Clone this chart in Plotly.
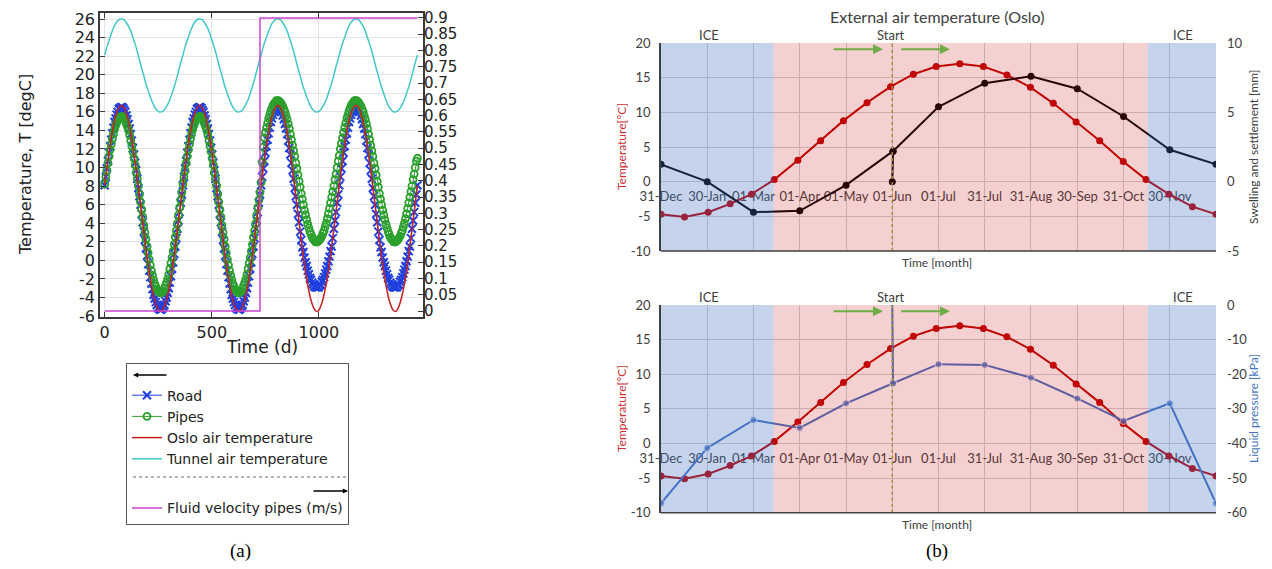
import plotly.graph_objects as go

# =====================  panel (a): simulated temperatures, 4 years  =====================
SAMPLE_STEP_FINE = 365 / 72      # days between road / pipe output samples
SAMPLE_STEP_COARSE = 365 / 36    # days between air-temperature samples

road_year_no_flow = [8.1, 9.0, 9.9, 10.7, 11.6, 12.3, 13.0, 13.7, 14.3, 14.9, 15.3, 15.7,
                     16.0, 16.3, 16.4, 16.5, 16.5, 16.4, 16.2, 16.0, 15.6, 15.2, 14.7, 14.2,
                     13.6, 12.9, 12.1, 11.4, 10.5, 9.7, 8.8, 7.8, 6.9, 6.0, 5.0, 4.1,
                     3.1, 2.2, 1.3, 0.5, -0.4, -1.1, -1.8, -2.5, -3.1, -3.7, -4.1, -4.5,
                     -4.8, -5.1, -5.2, -5.3, -5.3, -5.2, -5.0, -4.8, -4.4, -4.0, -3.5, -3.0,
                     -2.4, -1.7, -0.9, -0.2, 0.7, 1.5, 2.4, 3.4, 4.3, 5.2, 6.2, 7.1]
road_year_flow = [8.1, 9.0, 9.9, 10.7, 11.6, 12.3, 13.0, 13.7, 14.3, 14.9, 15.3, 15.7,
                  16.0, 16.3, 16.4, 16.5, 16.5, 16.4, 16.2, 16.0, 15.6, 15.2, 14.7, 14.2,
                  13.6, 12.9, 12.1, 11.4, 10.5, 9.7, 8.8, 7.8, 6.9, 6.0, 5.0, 4.1,
                  3.1, 2.2, 1.4, 0.9, 0.3, -0.2, -0.6, -1.1, -1.5, -1.9, -2.1, -2.4,
                  -2.6, -2.8, -2.9, -2.9, -2.9, -2.9, -2.7, -2.6, -2.3, -2.1, -1.8, -1.4,
                  -1.0, -0.6, -0.1, 0.4, 1.0, 1.5, 2.4, 3.4, 4.3, 5.2, 6.2, 7.1]
pipes_year_no_flow = [8.2, 9.0, 9.7, 10.5, 11.2, 11.9, 12.5, 13.1, 13.6, 14.1, 14.5, 14.8,
                      15.1, 15.3, 15.4, 15.5, 15.5, 15.4, 15.3, 15.0, 14.7, 14.4, 14.0, 13.5,
                      12.9, 12.3, 11.7, 11.0, 10.3, 9.5, 8.8, 8.0, 7.1, 6.3, 5.5, 4.7,
                      3.8, 3.0, 2.3, 1.5, 0.8, 0.1, -0.5, -1.1, -1.6, -2.1, -2.5, -2.8,
                      -3.1, -3.3, -3.4, -3.5, -3.5, -3.4, -3.3, -3.0, -2.7, -2.4, -2.0, -1.5,
                      -0.9, -0.3, 0.3, 1.0, 1.7, 2.5, 3.2, 4.0, 4.9, 5.7, 6.5, 7.3]
pipes_flow_startup = [8.4, 10.6, 12.2]
pipes_year_flow = [11.3, 12.0, 12.6, 13.2, 13.8, 14.3, 14.8, 15.3, 15.7, 16.1, 16.4, 16.7,
                   16.9, 17.0, 17.2, 17.2, 17.2, 17.1, 17.0, 16.8, 16.6, 16.3, 16.0, 15.6,
                   15.2, 14.7, 14.2, 13.6, 13.0, 12.4, 11.8, 11.2, 10.5, 9.9, 9.2, 8.5,
                   7.9, 7.2, 6.6, 6.0, 5.4, 4.9, 4.4, 3.9, 3.5, 3.1, 2.8, 2.5,
                   2.3, 2.2, 2.0, 2.0, 2.0, 2.1, 2.2, 2.4, 2.6, 2.9, 3.2, 3.6,
                   4.0, 4.5, 5.0, 5.6, 6.2, 6.8, 7.4, 8.0, 8.7, 9.3, 10.0, 10.7]
oslo_year = [8.1, 10.0, 11.7, 13.2, 14.5, 15.5, 16.2, 16.6, 16.7, 16.4, 15.8, 14.9,
             13.7, 12.3, 10.6, 8.8, 6.9, 5.0, 3.1, 1.2, -0.5, -2.0, -3.3, -4.3,
             -5.0, -5.4, -5.5, -5.2, -4.6, -3.7, -2.5, -1.1, 0.6, 2.4, 4.3, 6.2]
tunnel_year = [22.1, 23.0, 23.7, 24.4, 25.0, 25.5, 25.8, 26.0, 26.0, 25.9, 25.6, 25.2,
               24.7, 24.0, 23.3, 22.5, 21.6, 20.7, 19.9, 19.0, 18.3, 17.6, 17.0, 16.5,
               16.2, 16.0, 16.0, 16.1, 16.4, 16.8, 17.3, 18.0, 18.7, 19.5, 20.4, 21.3]

road_temp = road_year_no_flow + road_year_no_flow + road_year_flow + road_year_flow + [8.1]
pipes_temp = (pipes_year_no_flow + pipes_year_no_flow + pipes_flow_startup
              + pipes_year_flow[3:] + pipes_year_flow + [11.0])
oslo_temp = oslo_year + oslo_year + oslo_year + oslo_year + [8.1]
tunnel_temp = tunnel_year + tunnel_year + tunnel_year + tunnel_year + [22.1]

fluid_days = [0, 725, 725, 1460]
fluid_velocity = [0, 0, 0.9, 0.9]

temp_ticks_a = [-6, -4, -2, 0, 2, 4, 6, 8, 10, 12, 14, 16, 18, 20, 22, 24, 26]
temp_labels_a = ["-6", "-4", "-2", "0", "2", "4", "6", "8", "10", "12", "14", "16",
                 "18", "20", "22", "24", "26"]
vel_ticks_a = [0, 0.05, 0.1, 0.15, 0.2, 0.25, 0.3, 0.35, 0.4, 0.45, 0.5,
               0.55, 0.6, 0.65, 0.7, 0.75, 0.8, 0.85, 0.9]
vel_labels_a = ["0", "0.05", "0.1", "0.15", "0.2", "0.25", "0.3", "0.35", "0.4", "0.45", "0.5",
                "0.55", "0.6", "0.65", "0.7", "0.75", "0.8", "0.85", "0.9"]
time_ticks_a = [0, 500, 1000]

# =====================  panel (b): Oslo monitoring, one year  =====================
month_ticks = [0, 30.4, 60.8, 91.25, 121.7, 152.1, 182.5, 212.9, 243.3, 273.75, 304.2, 334.6]
month_labels = ["31-Dec", "30-Jan", "01-Mar", "01-Apr", "01-May", "01-Jun",
                "01-Jul", "31-Jul", "31-Aug", "30-Sep", "31-Oct", "30-Nov"]
temp_ticks_b = [-10, -5, 0, 5, 10, 15, 20]
temp_labels_b = ["-10", "-5", "0", "5", "10", "15", "20"]
swell_ticks_b = [-5, 0, 5, 10]
swell_labels_b = ["-5", "0", "5", "10"]
press_ticks_b = [-60, -50, -40, -30, -20, -10, 0]
press_labels_b = ["-60", "-50", "-40", "-30", "-20", "-10", "0"]

oslo_days = [0, 15.5, 31, 45.5, 59.5, 74.5, 90, 105, 120, 135.5, 151, 166, 181,
             196.5, 212, 227.5, 243, 258, 273, 288.5, 304, 319, 334, 349.5, 365]
oslo_air_b = [-4.7, -5.1, -4.4, -3.2, -1.8, 0.3, 3.1, 5.9, 8.8, 11.4, 13.7, 15.5, 16.6,
              17.0, 16.6, 15.4, 13.6, 11.3, 8.6, 5.9, 2.9, 0.3, -1.8, -3.6, -4.7]

measure_days = [0, 30.4, 60.8, 91.25, 121.7, 152.6, None,
                152.1, 152.6, 182.5, 212.9, 243.3, 273.75, 304.2, 334.6, 365]
swelling_mm = [1.25, 0.0, -2.2, -2.1, -0.25, 2.2, None,
               0.0, 2.2, 5.4, 7.1, 7.6, 6.7, 4.7, 2.3, 1.25]
liquid_pressure_kpa = [-57.3, -41.3, -33.2, -35.5, -28.4, -22.6, None,
                       0.0, -22.6, -17.1, -17.3, -21.0, -27.0, -33.5, -28.4, -57.3]
pressure_marker_size = [7, 7, 7, 7, 7, 7, 0, 0, 7, 7, 7, 7, 7, 7, 7, 7]

ICE_END_DAY = 74
ICE_START_DAY = 320
START_DAY = 152.1

# ----------------------------- styling -----------------------------
ROAD = "#1f3fe0"
PIPES = "#2ca02c"
OSLO = "#c8201e"
TUNNEL = "#40c8c8"
FLUID = "#cc44cc"
XL_RED = "#C00000"
XL_BLUE = "#4472C4"
XL_TXT = "#404040"
FA = "DejaVu Sans"
FB = "Lato"

fig = go.Figure()

fig.add_trace(go.Scatter(x0=0, dx=SAMPLE_STEP_FINE, y=road_temp, name="Road", mode="lines+markers",
                         line=dict(color=ROAD, width=1),
                         marker=dict(symbol="x-thin", size=8, color=ROAD, line=dict(width=2, color=ROAD)),
                         xaxis="x", yaxis="y", legendgroup="left"))
fig.add_trace(go.Scatter(x0=0, dx=SAMPLE_STEP_FINE, y=pipes_temp, name="Pipes", mode="lines+markers",
                         line=dict(color=PIPES, width=1),
                         marker=dict(symbol="circle-open", size=7, color=PIPES, line=dict(width=1.8, color=PIPES)),
                         xaxis="x", yaxis="y", legendgroup="left"))
fig.add_trace(go.Scatter(x0=0, dx=SAMPLE_STEP_COARSE, y=oslo_temp, name="Oslo air temperature", mode="lines",
                         line=dict(color=OSLO, width=1.5, shape="spline"),
                         xaxis="x", yaxis="y", legendgroup="left"))
fig.add_trace(go.Scatter(x0=0, dx=SAMPLE_STEP_COARSE, y=tunnel_temp, name="Tunnel air temperature", mode="lines",
                         line=dict(color=TUNNEL, width=1.5, shape="spline"),
                         xaxis="x", yaxis="y", legendgroup="left"))
fig.add_trace(go.Scatter(x=fluid_days, y=fluid_velocity, name="Fluid velocity pipes (m/s)", mode="lines",
                         line=dict(color=FLUID, width=1.5),
                         xaxis="x", yaxis="y2", legendgroup="right"))

# panel (b) top
fig.add_trace(go.Scatter(x=oslo_days, y=oslo_air_b, mode="lines+markers", showlegend=False,
                         line=dict(color=XL_RED, width=2), marker=dict(size=7, color=XL_RED),
                         xaxis="x2", yaxis="y3"))
fig.add_trace(go.Scatter(x=measure_days, y=swelling_mm, mode="lines+markers", showlegend=False,
                         line=dict(color="black", width=2), marker=dict(size=7, color="black"),
                         xaxis="x2", yaxis="y4"))
# panel (b) bottom
fig.add_trace(go.Scatter(x=oslo_days, y=oslo_air_b, mode="lines+markers", showlegend=False,
                         line=dict(color=XL_RED, width=2), marker=dict(size=7, color=XL_RED),
                         xaxis="x3", yaxis="y5"))
fig.add_trace(go.Scatter(x=measure_days, y=liquid_pressure_kpa, mode="lines+markers", showlegend=False,
                         line=dict(color=XL_BLUE, width=2),
                         marker=dict(size=pressure_marker_size, color=XL_BLUE),
                         xaxis="x3", yaxis="y6"))


def P(px, py):
    return px / 1272, 1 - py / 569


axis_a = dict(showgrid=True, gridcolor="#e4e4e4", gridwidth=1, showline=True, linecolor="#3a3a3a",
              linewidth=1.5, ticks="inside", ticklen=5, tickcolor="#3a3a3a", zeroline=False,
              automargin=False, tickfont=dict(family=FA, size=16, color="#222"))

layout_b_x = dict(range=[0, 365], tickvals=month_ticks, ticktext=month_labels, showline=False,
                  ticks="", showgrid=True, gridcolor="#d0d0d0", gridwidth=1, zeroline=False,
                  automargin=False, layer="below traces", tickfont=dict(family=FB, size=13, color=XL_TXT))
layout_b_yl = dict(range=[-10, 20], tickvals=temp_ticks_b, ticktext=temp_labels_b, showgrid=True,
                   gridcolor="#d0d0d0", gridwidth=1, showline=True, linecolor="#404040", linewidth=1.5,
                   zeroline=False, ticks="", ticklabelstandoff=6, automargin=False,
                   tickfont=dict(family=FB, size=13, color=XL_TXT))

fig.update_layout(
    width=1272, height=569, autosize=False,
    margin=dict(l=0, r=0, t=0, b=0, pad=0, autoexpand=False),
    paper_bgcolor="white", plot_bgcolor="white",
    xaxis=dict(domain=[P(100, 0)[0], P(423, 0)[0]], range=[-22, 1486], tickvals=time_ticks_a,
               anchor="y", mirror="ticks", **axis_a),
    yaxis=dict(domain=[P(0, 317)[1], P(0, 13)[1]], range=[-6.1, 26.65], tickvals=temp_ticks_a,
               ticktext=temp_labels_a, anchor="x", mirror=True, **axis_a),
    yaxis2=dict(overlaying="y", side="right", anchor="x", range=[-0.0184, 0.915], tickvals=vel_ticks_a,
                ticktext=vel_labels_a, showgrid=False, zeroline=False, ticks="inside", ticklen=5,
                automargin=False, tickcolor="#3a3a3a", tickfont=dict(family=FA, size=15, color="#222")),
    xaxis2=dict(domain=[P(661, 0)[0], P(1216, 0)[0]], anchor="free", position=P(0, 187)[1], **layout_b_x),
    yaxis3=dict(domain=[P(0, 251)[1], P(0, 43)[1]], anchor="x2", **layout_b_yl),
    yaxis4=dict(overlaying="y3", side="right", anchor="x2", range=[-5, 10], tickvals=swell_ticks_b,
                ticktext=swell_labels_b, showgrid=False, zeroline=False, showline=False, ticks="",
                ticklabelstandoff=10, automargin=False, tickfont=dict(family=FB, size=13, color=XL_TXT)),
    xaxis3=dict(domain=[P(661, 0)[0], P(1216, 0)[0]], anchor="free", position=P(0, 448.5)[1], **layout_b_x),
    yaxis5=dict(domain=[P(0, 512.7)[1], P(0, 305)[1]], anchor="x3", **layout_b_yl),
    yaxis6=dict(overlaying="y5", side="right", anchor="x3", range=[-60, 0],
                tickvals=press_ticks_b, ticktext=press_labels_b, showgrid=False, zeroline=False,
                showline=False, ticks="", ticklabelstandoff=10, automargin=False,
                tickfont=dict(family=FB, size=13, color=XL_TXT)),
    legend=dict(x=P(126, 0)[0], y=P(0, 363)[1], xanchor="left", yanchor="top",
                bgcolor="rgba(0,0,0,0)", bordercolor="#555", borderwidth=1,
                font=dict(family=FA, size=14, color="#222"),
                title=dict(text="\u00a0", font=dict(family=FA, size=12)),
                traceorder="grouped", tracegroupgap=28, itemwidth=30),
)

shapes = []
annotations = []
for xa, ya in (("x2", "y3"), ("x3", "y5")):
    shapes.append(dict(type="line", xref=xa, yref=f"{ya} domain", x0=START_DAY, x1=START_DAY, y0=0, y1=1,
                       line=dict(color="#8fb04a", width=1.5, dash="dot"), layer="above"))
    for x0, x1, col in ((0, ICE_END_DAY, "rgba(68,114,196,0.31)"),
                        (ICE_END_DAY, ICE_START_DAY, "rgba(200,20,20,0.2)"),
                        (ICE_START_DAY, 365, "rgba(68,114,196,0.31)")):
        shapes.append(dict(type="rect", xref=xa, yref=f"{ya} domain", x0=x0, x1=x1, y0=0, y1=1,
                           fillcolor=col, line=dict(width=0), layer="above"))
    shapes.append(dict(type="line", xref=f"{xa} domain", yref=f"{ya} domain", x0=0, x1=1, y0=0, y1=0,
                       line=dict(color="#404040", width=1.5), layer="above"))
    for head, tail in ((146, 112.5), (190, 157)):
        annotations.append(dict(x=head, y=19.1, xref=xa, yref=ya, ax=tail, ay=19.1, axref=xa, ayref=ya,
                                text="", showarrow=True, arrowhead=2, arrowsize=1, arrowwidth=2,
                                arrowcolor="#70AD47"))

# legend separator of panel (a)
x0p, y0p = P(133, 477)
x1p, _ = P(348, 477)
shapes.append(dict(type="line", xref="paper", yref="paper", x0=x0p, x1=x1p, y0=y0p, y1=y0p,
                   line=dict(color="#666", width=1, dash="dot")))


def txt(text, px, py, size, color=XL_TXT, family=FB, angle=0, **kw):
    x, y = P(px, py)
    annotations.append(dict(text=text, x=x, y=y, xref="paper", yref="paper", showarrow=False,
                            font=dict(family=family, size=size, color=color), textangle=angle,
                            xanchor="center", yanchor="middle", **kw))


# legend arrows (axis indicators)
hx, hy = P(133, 375)
annotations.append(dict(x=hx, y=hy, xref="paper", yref="paper", ax=35, ay=0, text="", showarrow=True,
                        arrowhead=2, arrowsize=0.8, arrowwidth=1.3, arrowcolor="black"))
hx, hy = P(348, 491)
annotations.append(dict(x=hx, y=hy, xref="paper", yref="paper", ax=-36, ay=0, text="", showarrow=True,
                        arrowhead=2, arrowsize=0.8, arrowwidth=1.3, arrowcolor="black"))

# panel (a) axis titles
txt("Temperature, T [degC]", 25, 165, 16, "#222", FA, -90)
txt("Time (d)", 262, 347, 17, "#222", FA)

# panel (b) texts
txt("External air temperature (Oslo)", 937, 16, 16)
for top in (35, 297):
    txt("ICE", 709, top, 13)
    txt("ICE", 1183, top, 13)
    txt("Start", 891, top, 13)
txt("Time [month]", 937, 262, 12)
txt("Time [month]", 937, 524, 12)
txt("Temperature[°C]", 621, 147, 12, "#d03030", FB, -90)
txt("Temperature[°C]", 621, 409, 12, "#d03030", FB, -90)
txt("Swelling and settlement [mm]", 1253, 147, 12, XL_TXT, FB, -90)
txt("Liquid pressure [kPa]", 1253, 409, 12, XL_BLUE, FB, -90)

# captions
txt("(a)", 240, 551, 19, "black", "Liberation Serif")
txt("(b)", 937, 551, 19, "black", "Liberation Serif")

fig.update_layout(shapes=shapes, annotations=annotations)
fig.write_html("out.html", config={"displayModeBar": False},
               post_script="document.body.style.margin='0px';")
